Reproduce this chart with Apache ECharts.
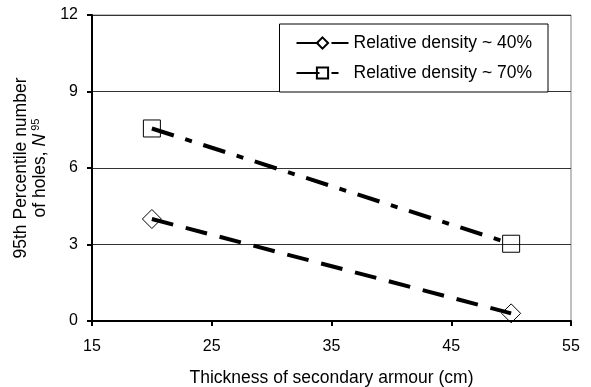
<!DOCTYPE html>
<html><head><meta charset="utf-8">
<script src="https://cdn.jsdelivr.net/npm/echarts@6/dist/echarts.min.js"></script>
<style>html,body{margin:0;padding:0;background:#fff}#c{width:591px;height:387px}</style>
</head><body><div id="c"></div>
<script>
const thickness = [20, 50];
const density40 = [4.0, 0.3];
const density70 = [7.55, 3.03];
const seriesNames = ['Relative density ~ 40%', 'Relative density ~ 70%'];
const xTicks = [15, 25, 35, 45, 55];
const yTicks = [0, 3, 6, 9, 12];

const FONT = 'Liberation Sans, Arial, sans-serif';
const chart = echarts.init(document.getElementById('c'), null, {renderer: 'canvas'});
function pairs(xs, ys) { return xs.map((x, i) => [x, ys[i]]); }
chart.setOption({
  animation: false,
  backgroundColor: '#fff',
  textStyle: {fontFamily: FONT, color: '#000'},
  grid: {left: 92, right: 20, top: 15, bottom: 66, show: true, borderColor: '#808080', borderWidth: 1,
         containLabel: false, outerBoundsMode: 'none'},
  legend: {
    orient: 'vertical', right: 43, top: 24,
    backgroundColor: '#fff',
    borderColor: '#000', borderWidth: 1, padding: [10, 16, 10, 16],
    itemWidth: 52, itemHeight: 14, itemGap: 12,
    textStyle: {fontFamily: FONT, fontSize: 17.5, color: '#000'},
    data: seriesNames
  },
  xAxis: {
    type: 'value', min: xTicks[0], max: xTicks[xTicks.length - 1], interval: 10,
    name: 'Thickness of secondary armour (cm)', nameLocation: 'middle', nameGap: 48,
    nameTextStyle: {fontFamily: FONT, fontSize: 17.5, color: '#000'},
    axisLine: {lineStyle: {color: '#000', width: 2}},
    axisTick: {show: true, inside: false, length: 5, lineStyle: {color: '#000', width: 2}},
    axisLabel: {fontFamily: FONT, fontSize: 16, color: '#000', margin: 18},
    splitLine: {show: false}
  },
  yAxis: {
    type: 'value', min: yTicks[0], max: yTicks[yTicks.length - 1], interval: 3,
    name: '95th Percentile number\n{t|of holes, }{i|N}{s| 95}', nameLocation: 'middle', nameGap: 42,
    nameRotate: 90,
    nameTextStyle: {fontFamily: FONT, fontSize: 17.5, color: '#000', lineHeight: 19, align: 'center',
      rich: {
        t: {fontFamily: FONT, fontSize: 17.5, color: '#000'},
        i: {fontFamily: FONT, fontSize: 17.5, color: '#000', fontStyle: 'italic'},
        s: {fontFamily: FONT, fontSize: 11, color: '#000', verticalAlign: 'top', padding: [0, 0, 7, 0]}
      }},
    axisLine: {show: true, lineStyle: {color: '#000', width: 2}},
    axisTick: {show: true, inside: false, length: 5, lineStyle: {color: '#000', width: 2}},
    axisLabel: {fontFamily: FONT, fontSize: 16, color: '#000', margin: 14},
    splitLine: {show: true, lineStyle: {color: '#333', width: 1}}
  },
  series: [
    {
      name: seriesNames[0], type: 'line', data: pairs(thickness, density40),
      symbol: 'diamond', symbolSize: [19, 19],
      itemStyle: {color: 'rgba(255,255,255,0)', borderColor: '#000', borderWidth: 1},
      lineStyle: {color: '#000', width: 4, type: [22, 13]}
    },
    {
      name: seriesNames[1], type: 'line', data: pairs(thickness, density70),
      symbol: 'rect', symbolSize: 17,
      itemStyle: {color: 'rgba(255,255,255,0)', borderColor: '#000', borderWidth: 1},
      lineStyle: {color: '#000', width: 4, type: [23, 12, 7, 12]}
    }
  ]
});
</script></body></html>
